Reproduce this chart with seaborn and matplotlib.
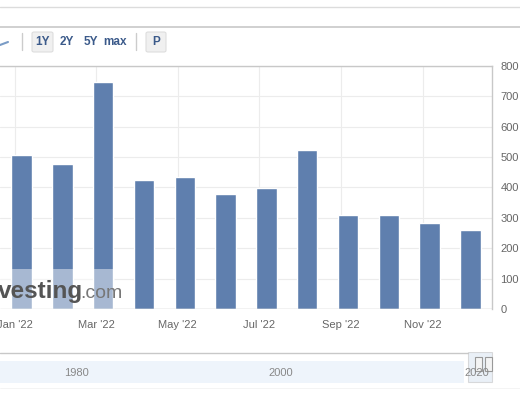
import matplotlib
matplotlib.use("Agg")
import matplotlib.pyplot as plt
from matplotlib.patches import Rectangle, FancyBboxPatch
import seaborn as sns
import pandas as pd

# values
months = ["Jan", "Feb", "Mar", "Apr", "May", "Jun",
          "Jul", "Aug", "Sep", "Oct", "Nov", "Dec"]
values = [508, 477, 747, 424, 434, 380, 397, 525, 311, 311, 283, 260]
tick_months = ["Jan", "Mar", "May", "Jul", "Sep", "Nov"]
tick_labels = ["Jan '22", "Mar '22", "May '22", "Jul '22", "Sep '22", "Nov '22"]
y_ticks = [0, 100, 200, 300, 400, 500, 600, 700, 800]
nav_years = ["1980", "2000", "2020"]

BAR = "#5f7fae"
GRID = "#ececec"
TXT = "#666666"

df = pd.DataFrame({"month": months, "value": values})

sns.set_style("white")
plt.rcParams["font.family"] = ["Liberation Sans", "DejaVu Sans"]

fig = plt.figure(figsize=(5.2, 4.0), dpi=100)
ax = fig.add_axes([0.0, 0.2275, 492 / 520, 0.6075])

sns.barplot(data=df, x="month", y="value", color=BAR, width=0.5,
            saturation=1, ax=ax, zorder=3)

ax.set_xlim(-0.53, 11.53)
ax.set_ylim(0, 800)
ax.set_xlabel("")
ax.set_ylabel("")

# gridlines sit a bit left of the bar centres (month starts)
pos = [months.index(m) - 0.17 for m in tick_months]
ax.set_xticks(pos)
ax.set_xticklabels(tick_labels, fontsize=8, color=TXT)
ax.set_yticks(y_ticks)
ax.set_yticklabels([str(v) for v in y_ticks], fontsize=8, color=TXT)
ax.yaxis.tick_right()
ax.tick_params(axis="y", length=0, pad=6)
ax.tick_params(axis="x", length=0, pad=8)
ax.grid(True, color=GRID, lw=0.8, zorder=0)
ax.set_axisbelow(True)
for s in ["left", "bottom"]:
    ax.spines[s].set_visible(False)
for s in ["top", "right"]:
    ax.spines[s].set_color("#c8c8c8")
    ax.spines[s].set_linewidth(1)
ax.axhline(0, color="#c8c8c8", lw=1, zorder=4)

# watermark box and text
ax.add_patch(Rectangle((-0.53, 0), 2.83, 132, facecolor="white", alpha=0.45,
                       edgecolor="none", zorder=5))
fig.text(-0.004, 0.255, "vesting", fontsize=17.5, fontweight="bold",
         color="#555555", ha="left", va="baseline", zorder=6)
fig.text(0.154, 0.255, ".com", fontsize=14, color="#777777",
         ha="left", va="baseline", zorder=6)

# toolbar on top
fig.add_artist(plt.Line2D([0, 1], [1 - 7 / 400] * 2, color="#dcdcdc", lw=1))
fig.add_artist(plt.Line2D([0, 1], [1 - 27 / 400] * 2, color="#c8c8c8", lw=1.2))
fig.add_artist(plt.Line2D([22 / 520] * 2, [1 - 33 / 400, 1 - 50 / 400],
                          color="#cccccc", lw=1))
fig.add_artist(plt.Line2D([136 / 520] * 2, [1 - 33 / 400, 1 - 50 / 400],
                          color="#cccccc", lw=1))
for x0, w in [(32, 21), (146, 20)]:
    fig.add_artist(FancyBboxPatch((x0 / 520, 1 - 52 / 400), w / 520, 20 / 400,
                                  boxstyle="round,pad=0,rounding_size=0.004",
                                  facecolor="#f0f0f0", edgecolor="#dddddd", lw=0.8))
for lbl, xc in [("1Y", 42.5), ("2Y", 66.5), ("5Y", 91), ("max", 115), ("P", 156)]:
    fig.text(xc / 520, 1 - 42 / 400, lbl, fontsize=8.5, fontweight="bold",
             color="#3b5a8a", ha="center", va="center")
fig.add_artist(plt.Line2D([0, 8 / 520], [1 - 45 / 400, 1 - 42 / 400],
                          color="#7a9cc6", lw=1.5))

# navigator strip
nav = fig.add_axes([0.0, 1 - 389 / 400, 1.0, 37 / 400])
nav.set_xlim(0, 520)
nav.set_ylim(389, 352)
nav.axis("off")
nav.add_patch(Rectangle((0, 361), 464, 22, facecolor="#eef4fb", edgecolor="none"))
nav.plot([0, 468], [352.5, 352.5], color="#c8c8c8", lw=1)
nav.plot([0, 520], [388.5, 388.5], color="#c8c8c8", lw=1)
for yr, xc in zip(nav_years, [76, 281, 477]):
    nav.text(xc, 373, yr, fontsize=8, color="#888888", ha="center", va="center")
nav.add_patch(Rectangle((468, 352), 24, 30, facecolor="#d6e2f0", alpha=0.5,
                        edgecolor="#bbbbbb", lw=0.8))
for hx in [478, 488]:
    nav.add_patch(Rectangle((hx - 3.5, 357), 7, 14, facecolor="#f4f4f4",
                            edgecolor="#999999", lw=0.8))

fig.savefig("out.png", dpi=100)
